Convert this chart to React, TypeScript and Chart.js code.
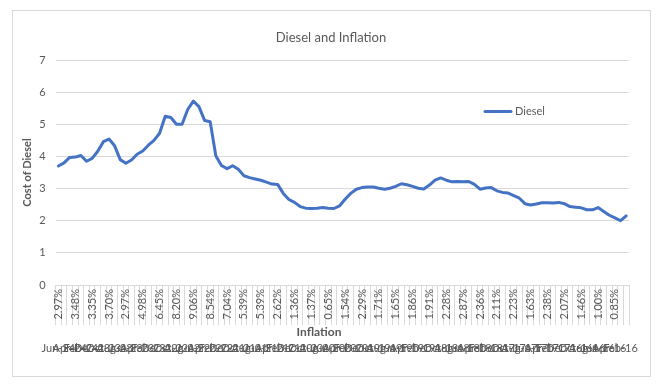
import React, { useEffect, useRef } from 'react';
import { Chart, registerables } from 'chart.js';

Chart.register(...registerables);

// Monthly categories, newest first (Jun-24 back to Jan-16)
const dates: string[] = [
  'Jun-24', 'May-24', 'Apr-24', 'Mar-24', 'Feb-24', 'Jan-24',
  'Dec-23', 'Nov-23', 'Oct-23', 'Sep-23', 'Aug-23', 'Jul-23', 'Jun-23', 'May-23', 'Apr-23', 'Mar-23', 'Feb-23', 'Jan-23',
  'Dec-22', 'Nov-22', 'Oct-22', 'Sep-22', 'Aug-22', 'Jul-22', 'Jun-22', 'May-22', 'Apr-22', 'Mar-22', 'Feb-22', 'Jan-22',
  'Dec-21', 'Nov-21', 'Oct-21', 'Sep-21', 'Aug-21', 'Jul-21', 'Jun-21', 'May-21', 'Apr-21', 'Mar-21', 'Feb-21', 'Jan-21',
  'Dec-20', 'Nov-20', 'Oct-20', 'Sep-20', 'Aug-20', 'Jul-20', 'Jun-20', 'May-20', 'Apr-20', 'Mar-20', 'Feb-20', 'Jan-20',
  'Dec-19', 'Nov-19', 'Oct-19', 'Sep-19', 'Aug-19', 'Jul-19', 'Jun-19', 'May-19', 'Apr-19', 'Mar-19', 'Feb-19', 'Jan-19',
  'Dec-18', 'Nov-18', 'Oct-18', 'Sep-18', 'Aug-18', 'Jul-18', 'Jun-18', 'May-18', 'Apr-18', 'Mar-18', 'Feb-18', 'Jan-18',
  'Dec-17', 'Nov-17', 'Oct-17', 'Sep-17', 'Aug-17', 'Jul-17', 'Jun-17', 'May-17', 'Apr-17', 'Mar-17', 'Feb-17', 'Jan-17',
  'Dec-16', 'Nov-16', 'Oct-16', 'Sep-16', 'Aug-16', 'Jul-16', 'Jun-16', 'May-16', 'Apr-16', 'Mar-16', 'Feb-16', 'Jan-16',
];

// Cost of diesel ($/gal), one per month, same order as dates
const diesel: number[] = [
  3.70, 3.80, 3.97, 3.98, 4.03, 3.85,
  3.94, 4.16, 4.46, 4.54, 4.33, 3.90, 3.79, 3.89, 4.07, 4.17, 4.35, 4.50,
  4.72, 5.25, 5.21, 5.00, 5.00, 5.46, 5.72, 5.55, 5.12, 5.08, 4.02, 3.72,
  3.62, 3.71, 3.60, 3.40, 3.34, 3.30, 3.26, 3.20, 3.14, 3.13, 2.85, 2.66,
  2.57, 2.44, 2.39, 2.38, 2.39, 2.41, 2.39, 2.38, 2.46, 2.67, 2.85, 2.98,
  3.03, 3.05, 3.05, 3.01, 2.98, 3.01, 3.07, 3.15, 3.12, 3.07, 3.01, 2.99,
  3.11, 3.26, 3.33, 3.26, 3.21, 3.22, 3.21, 3.22, 3.13, 2.98, 3.02, 3.03,
  2.93, 2.88, 2.86, 2.78, 2.70, 2.53, 2.49, 2.52, 2.56, 2.56, 2.55, 2.57,
  2.53, 2.44, 2.42, 2.40, 2.34, 2.34, 2.41, 2.29, 2.17, 2.09, 2.00, 2.15,
];

// Inflation labels shown on the inner axis level (every third month)
const inflationLabels: string[] = [
  '2.97%', '3.48%', '3.35%', '3.70%', '2.97%', '4.98%', '6.45%', '8.20%', '9.06%', '8.54%',
  '7.04%', '5.39%', '5.39%', '2.62%', '1.36%', '1.37%', '0.65%', '1.54%', '2.29%', '1.71%',
  '1.65%', '1.86%', '1.91%', '2.28%', '2.87%', '2.36%', '2.11%', '2.23%', '1.63%', '2.38%',
  '2.07%', '1.46%', '1.00%', '0.85%',
];

const yTicks = { min: 0, max: 7, step: 1 };
const INFLATION_EVERY = 3;
const DATE_EVERY = 2;

const chartTitle = 'Diesel and Inflation';
const xTitle = 'Inflation';

const TEXT = '#595959';
const GRID = '#d9d9d9';
const LINE = '#4472C4';
const FONT = 'Lato';

const overlayText = {
  id: 'overlayText',
  afterDraw(chart: any) {
    const ctx = chart.ctx;
    const ds = chart.data.datasets[0];
    ctx.save();
    // chart title
    ctx.fillStyle = TEXT;
    ctx.textAlign = 'center';
    ctx.textBaseline = 'middle';
    ctx.font = `13px ${FONT}`;
    ctx.fillText(chartTitle, 331, 38);
    // x axis title
    ctx.font = `bold 12px ${FONT}`;
    ctx.fillText(xTitle, 319, 332);
    // legend
    const y = 111.5;
    ctx.strokeStyle = ds.borderColor;
    ctx.lineWidth = 3;
    ctx.lineCap = 'round';
    ctx.beginPath();
    ctx.moveTo(485, y);
    ctx.lineTo(511, y);
    ctx.stroke();
    ctx.font = `11px ${FONT}`;
    ctx.textAlign = 'left';
    ctx.fillText(ds.label, 515, y);
    ctx.restore();
  },
};

export default function App() {
  const canvasRef = useRef<HTMLCanvasElement | null>(null);

  useEffect(() => {
    if (!canvasRef.current) return;
    Chart.defaults.font.family = FONT;
    const chart = new Chart(canvasRef.current, {
      type: 'line',
      data: {
        labels: dates,
        datasets: [
          {
            label: 'Diesel',
            data: diesel,
            borderColor: LINE,
            backgroundColor: LINE,
            borderWidth: 3,
            pointRadius: 0,
            pointHoverRadius: 0,
            tension: 0,
            borderCapStyle: 'round',
            borderJoinStyle: 'round',
            fill: false,
            xAxisID: 'x',
            yAxisID: 'y',
          },
        ],
      },
      options: {
        animation: false,
        responsive: false,
        devicePixelRatio: 1,
        events: [],
        layout: { padding: { left: 17, right: 40, top: 60, bottom: 28 } },
        plugins: {
          legend: { display: false },
          tooltip: { enabled: false },
          title: { display: false },
        },
        scales: {
          x: {
            type: 'category',
            position: 'bottom',
            weight: 0,
            offset: true,
            grid: {
              display: true,
              drawOnChartArea: false,
              drawTicks: true,
              tickLength: 40,
              offset: true,
              color: GRID,
              lineWidth: 1,
            },
            border: { display: true, color: GRID },
            ticks: {
              autoSkip: false,
              maxRotation: 90,
              minRotation: 90,
              padding: -36,
              labelOffset: 0,
              color: TEXT,
              font: { family: FONT, size: 11 },
              callback: (_v: any, i: number) =>
                i % INFLATION_EVERY === 0 ? inflationLabels[i / INFLATION_EVERY] ?? '' : '',
            },
            title: { display: false },
            afterFit: (s: any) => {
              s.height = 54;
            },
          },
          x2: {
            type: 'category',
            labels: dates,
            position: 'bottom',
            weight: 1,
            offset: true,
            grid: { display: false, drawTicks: false },
            border: { display: false },
            ticks: {
              autoSkip: false,
              maxRotation: 0,
              minRotation: 0,
              padding: 3,
              color: TEXT,
              font: { family: FONT, size: 11 },
              callback: (_v: any, i: number) => (i % DATE_EVERY === 0 ? dates[i] : ''),
            },
            afterFit: (s: any) => {
              s.height = 20;
            },
          },
          y: {
            min: yTicks.min,
            max: yTicks.max,
            ticks: {
              stepSize: yTicks.step,
              padding: 10,
              color: TEXT,
              font: { family: FONT, size: 11 },
            },
            grid: { color: GRID, drawTicks: false, lineWidth: 1 },
            border: { display: false },
            title: {
              display: true,
              text: 'Cost of Diesel',
              color: TEXT,
              font: { family: FONT, size: 11, weight: 'bold' },
              padding: { top: 4, bottom: 4 },
            },
            afterFit: (s: any) => {
              s.width = 38.6;
            },
          },
        },
      },
      plugins: [overlayText],
    } as any);
    return () => chart.destroy();
  }, []);

  return (
    <div style={{ position: 'fixed', left: 0, top: 0, width: 669, height: 387, background: '#fff' }}>
      <div
        style={{
          position: 'absolute',
          left: 12,
          top: 10,
          width: 639,
          height: 367,
          border: '1px solid #d9d9d9',
          boxSizing: 'border-box',
        }}
      />
      <canvas
        ref={canvasRef}
        width={669}
        height={387}
        style={{ position: 'absolute', left: 0, top: 0, width: 669, height: 387 }}
      />
    </div>
  );
}
